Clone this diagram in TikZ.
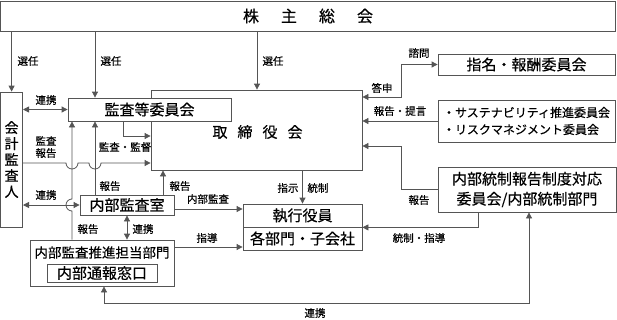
\documentclass[tikz,border=0pt]{standalone}
\usepackage{fontspec}
\setmainfont{Noto Sans CJK JP}[FakeBold=0.4]
\usepackage{tikz}
\usetikzlibrary{arrows.meta}
\definecolor{linegray}{RGB}{85,85,85}
\tikzset{
  box/.style={draw=linegray,line width=0.8pt,fill=white,inner sep=0pt,
    font=\fontsize{15}{17}\selectfont},
  lbl/.style={font=\fontsize{10.5}{12}\selectfont,inner sep=0pt},
  link/.style={-{Triangle[length=6pt,width=6pt]},line width=0.8pt,linegray},
  dbllink/.style={{Triangle[length=6pt,width=6pt]}-{Triangle[length=6pt,width=6pt]},
    line width=0.8pt,linegray}
}

\begin{document}
\begin{tikzpicture}[x=1pt,y=-1pt]
  \useasboundingbox (0,0) rectangle (617,319);

  % boxes
  \node[box,minimum width=615pt,minimum height=30pt,font=\fontsize{16}{18}\selectfont]
    (gm) at (308,16) {株\hspace{22pt}主\hspace{22pt}総\hspace{22pt}会};
  \node[box,minimum width=22pt,minimum height=135pt,align=center,
    font=\fontsize{14}{16}\selectfont] (acct) at (11.6,159.5) {会\\計\\監\\査\\人};
  \node[box,minimum width=211pt,minimum height=80pt] (board) at (256.5,130) {};
  \node[font=\fontsize{15}{17}\selectfont,inner sep=0pt] (boardtxt) at (257.5,132)
    {取\hspace{10pt}締\hspace{10pt}役\hspace{10pt}会};
  \node[box,minimum width=163pt,minimum height=23pt] (acm) at (149.5,109.5) {監査等委員会};
  \node[box,minimum width=94pt,minimum height=20pt] (iad) at (127,205) {内部監査室};
  \node[box,minimum width=144pt,minimum height=46pt] (iap) at (102,263) {};
  \node[font=\fontsize{13.5}{15}\selectfont,inner sep=0pt] (iaptitle) at (102,252.5)
    {内部監査推進担当部門};
  \node[box,minimum width=110pt,minimum height=18pt] (hotline) at (102,273) {内部通報窓口};
  \node[box,minimum width=119pt,minimum height=23pt] (exec) at (302.5,215.5) {執行役員};
  \node[box,minimum width=119pt,minimum height=23pt] (dept) at (302.5,238.5) {各部門・子会社};
  \node[box,minimum width=177pt,minimum height=21pt] (nrc) at (526.5,64.5) {指名・報酬委員会};
  \node[box,minimum width=177pt,minimum height=42pt,align=left,
    font=\fontsize{12}{17}\selectfont] (sust) at (526.5,121)
    {・サステナビリティ推進委員会\\・リスクマネジメント委員会};
  \node[box,minimum width=178pt,minimum height=45pt,align=center,
    font=\fontsize{15}{20}\selectfont] (icr) at (527,189.5)
    {内部統制報告制度対応\\委員会/内部統制部門};

  % guide positions
  \coordinate (c72) at (72,0);
  \coordinate (c95) at (95,0);
  \coordinate (c104) at (104,0);
  \coordinate (c123) at (123,0);
  \coordinate (c163) at (163,0);
  \coordinate (c257) at (257,0);
  \coordinate (c401) at (401,0);
  \coordinate (c478) at (478,0);
  \coordinate (c529) at (529,0);
  \coordinate (r97) at (0,97);
  \coordinate (r136) at (0,136);
  \coordinate (r146) at (0,146);
  \coordinate (r163) at (0,163);
  \coordinate (r209) at (0,209);
  \coordinate (r247) at (0,247);
  \coordinate (r303) at (0,303);

  % connectors
  \draw[link] (gm.south -| acct.north) -- (acct.north);
  \draw[link] (gm.south -| c95) -- (acm.north -| c95);
  \draw[link] (gm.south -| c257) -- (board.north -| c257);
  \draw[dbllink] (acm.west -| acct.east) -- (acm.west);
  \draw[link] (acm.south -| c123) |- (board.west |- r136);
  \draw[link] (acct.east |- r163) -- ([xshift=-6pt]c72 |- r163)
    arc[start angle=180,end angle=360,radius=6pt] -- ([xshift=-6pt]c95 |- r163)
    arc[start angle=180,end angle=360,radius=6pt] -- (board.west |- r163);
  \draw[link] (iap.north -| c72) -- ([yshift=-6pt]c72 |- iad.west)
    arc[start angle=-90,end angle=-270,radius=6pt] -- (acm.south -| c72);
  \draw[link] (iad.north -| c95) -- (acm.south -| c95);
  \draw[dbllink] (iad.west -| acct.east) -- (iad.west);
  \draw[link] (iad.north -| c163) -- (board.south -| c163);
  \draw[link] (iad.east |- r209) -- (exec.west |- r209);
  \draw[dbllink] (iad.south) -- (iad.south |- iap.north);
  \draw[link] (iap.east |- r247) -- (dept.west |- r247);
  \draw[link] (board.south -| exec.north) -- (exec.north);
  \draw[dbllink] (board.east |- r97) -| (c401 |- nrc.west) -- (nrc.west);
  \draw[link] (sust.west) -- (sust.west -| board.east);
  \draw[link] (icr.west) -| (c401 |- r146) -- (board.east |- r146);
  \draw[link] (icr.south -| c478) |- (exec.south east);
  \draw[dbllink] (iap.south -| c104) |- (c529 |- r303) -- (icr.south -| c529);

  % labels
  \node[lbl] (lsel1) at (28,61) {選任};
  \node[lbl] (lsel2) at (111,61) {選任};
  \node[lbl] (lsel3) at (273,61) {選任};
  \node[lbl] (lcoop1) at (46,100) {連携};
  \node[lbl,align=center] (lrep1) at (46,147) {監査\\報告};
  \node[lbl] (laudit) at (125,147) {監査・監督};
  \node[lbl] (lcoop2) at (46,195) {連携};
  \node[lbl] (lrep2) at (110,186) {報告};
  \node[lbl] (lrep3) at (180,186) {報告};
  \node[lbl] (lint) at (208,199) {内部監査};
  \node[lbl] (lcoop3) at (143,229) {連携};
  \node[lbl] (lrep4) at (88,229) {報告};
  \node[lbl] (lguide) at (207,238) {指導};
  \node[lbl] (lorder) at (288,188) {指示};
  \node[lbl] (lctrl) at (318,188) {統制};
  \node[lbl] (lans) at (382,88) {答申};
  \node[lbl] (lconsult) at (419,53) {諮問};
  \node[lbl] (lprop) at (400,111) {報告・提言};
  \node[lbl] (lrep5) at (419,200) {報告};
  \node[lbl] (lctrl2) at (419,238) {統制・指導};
  \node[lbl] (lcoop4) at (315,313) {連携};
\end{tikzpicture}
\end{document}
